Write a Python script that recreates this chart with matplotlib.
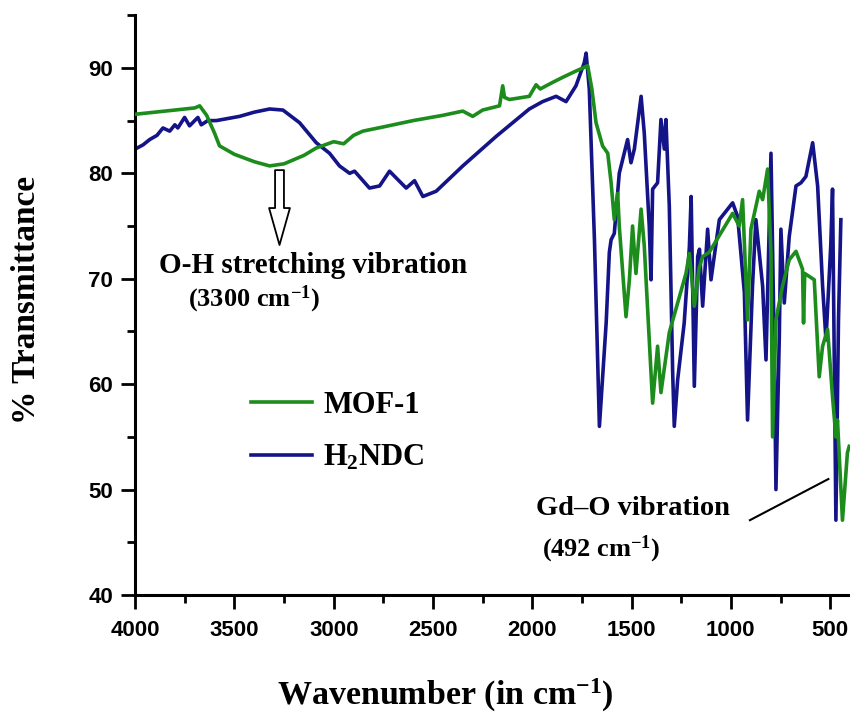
import matplotlib
matplotlib.use("Agg")
import matplotlib.pyplot as plt
from matplotlib.ticker import MultipleLocator

# ---------------- data ----------------
mof_wn = [4000, 3900, 3800, 3700, 3675, 3640, 3600, 3575, 3500, 3400, 3323, 3250,
          3150, 3088, 3000, 2950, 2900, 2853, 2750, 2600, 2450, 2350, 2300, 2250,
          2165, 2149, 2140, 2115, 2015, 1981, 1960, 1900, 1847, 1780, 1721, 1700,
          1679, 1646, 1620, 1603, 1587, 1570, 1562, 1528, 1511, 1495, 1478, 1452,
          1436, 1411, 1394, 1369, 1352, 1310, 1226, 1209, 1184, 1160, 1142, 1109,
          991, 958, 941, 916, 899, 857, 840, 815, 798, 790, 773, 740, 706, 672,
          639, 634, 628, 580, 555, 538, 513, 488, 471, 463, 438, 413, 404]
mof_t = [85.6, 85.8, 86.0, 86.2, 86.4, 85.5, 83.8, 82.6, 81.8, 81.1, 80.7, 80.9,
         81.7, 82.4, 83.0, 82.8, 83.6, 84.0, 84.4, 85.0, 85.5, 85.9, 85.4, 86.0,
         86.4, 88.3, 87.2, 87.0, 87.3, 88.4, 88.0, 88.6, 89.1, 89.7, 90.2, 88.0,
         84.8, 82.6, 81.9, 79.1, 75.6, 78.1, 75.0, 66.4, 69.9, 75.0, 70.5, 76.6,
         73.1, 64.2, 58.2, 63.6, 59.2, 64.9, 70.5, 72.4, 67.4, 71.0, 72.1, 72.5,
         76.2, 75.0, 77.5, 66.1, 74.7, 78.3, 77.5, 80.4, 72.4, 55.0, 66.1, 69.3,
         71.8, 72.6, 70.9, 65.8, 70.5, 69.9, 60.7, 63.6, 65.2, 58.8, 55.0, 56.6,
         47.1, 53.5, 54.1]

ndc_wn = [4000, 3960, 3927, 3890, 3860, 3826, 3800, 3785, 3751, 3726, 3700, 3684,
          3667, 3634, 3591, 3474, 3400, 3323, 3256, 3172, 3088, 3021, 2971, 2920,
          2895, 2820, 2769, 2719, 2635, 2593, 2551, 2484, 2350, 2182, 2015, 1948,
          1880, 1830, 1780, 1738, 1729, 1713, 1687, 1662, 1628, 1612, 1603, 1587,
          1562, 1520, 1503, 1486, 1452, 1436, 1411, 1402, 1394, 1369, 1352, 1335,
          1327, 1310, 1293, 1285, 1268, 1235, 1209, 1200, 1184, 1167, 1158, 1142,
          1117, 1100, 1058, 991, 966, 932, 916, 891, 874, 840, 823, 798, 781, 773,
          756, 748, 731, 706, 672, 647, 622, 588, 563, 538, 521, 497, 488, 471,
          458, 446]
ndc_t = [82.3, 82.7, 83.2, 83.6, 84.3, 84.0, 84.6, 84.3, 85.3, 84.5, 85.0, 85.3,
         84.6, 85.0, 85.0, 85.4, 85.8, 86.1, 86.0, 84.8, 82.9, 81.9, 80.7, 80.0,
         80.2, 78.6, 78.8, 80.2, 78.6, 79.3, 77.8, 78.3, 80.7, 83.5, 86.1, 86.8,
         87.3, 86.8, 88.3, 90.5, 91.4, 88.0, 73.7, 56.0, 65.8, 72.5, 73.7, 74.3,
         80.0, 83.2, 81.0, 82.3, 87.3, 83.8, 75.0, 69.9, 78.5, 79.1, 85.1, 82.3,
         85.1, 76.9, 61.1, 56.0, 60.4, 65.8, 73.0, 77.8, 59.8, 72.1, 72.8, 67.4,
         74.7, 69.9, 75.6, 77.2, 75.9, 68.7, 56.6, 69.3, 75.6, 69.3, 62.3, 81.9,
         62.9, 50.0, 64.5, 74.7, 67.7, 74.0, 78.8, 79.1, 79.7, 82.9, 78.8, 69.3,
         64.2, 73.1, 78.5, 47.1, 66.1, 75.6]

series_labels = ["MOF-1", "H$_2$NDC"]
x_ticks = [4000, 3500, 3000, 2500, 2000, 1500, 1000, 500]
y_ticks = [40, 50, 60, 70, 80, 90]

GREEN = "#1c8c1c"
BLUE = "#141488"
SERIF = "Liberation Serif"

plt.rcParams["mathtext.fontset"] = "custom"
plt.rcParams["mathtext.rm"] = "Liberation Serif:bold"
plt.rcParams["mathtext.it"] = "Liberation Serif:bold"
plt.rcParams["mathtext.bf"] = "Liberation Serif:bold"
plt.rcParams["mathtext.default"] = "rm"

fig = plt.figure(figsize=(8.5, 7.15), dpi=100)
ax = fig.add_axes([0.159, 0.1678, 0.841, 0.811])

ax.plot(mof_wn, mof_t, color=GREEN, lw=2.6, label=series_labels[0], zorder=3)
ax.plot(ndc_wn, ndc_t, color=BLUE, lw=2.6, label=series_labels[1], zorder=2)

ax.set_xlim(4000, 400)
ax.set_ylim(40, 95)
ax.set_xticks(x_ticks)
ax.set_yticks(y_ticks)
ax.xaxis.set_minor_locator(MultipleLocator(250))
ax.yaxis.set_minor_locator(MultipleLocator(5))

for s in ["top", "right"]:
    ax.spines[s].set_visible(False)
for s in ["left", "bottom"]:
    ax.spines[s].set_linewidth(2.2)

ax.tick_params(which="major", direction="out", length=10, width=2.0)
ax.tick_params(which="minor", direction="out", length=6, width=2.0)
ax.tick_params(axis="x", which="major", pad=8)
ax.tick_params(axis="y", which="major", pad=6)
for lab in ax.get_xticklabels() + ax.get_yticklabels():
    lab.set_fontfamily("Liberation Sans")
    lab.set_fontweight("bold")
    lab.set_fontsize(16)

fig.text(445 / 850, 1 - 705 / 715, "Wavenumber (in cm$^{-1}$)", fontfamily=SERIF,
         fontweight="bold", fontsize=24.5, ha="center", va="baseline")
fig.text(27 / 850, 1 - 300 / 715, "% Transmittance", fontfamily=SERIF,
         fontweight="bold", fontsize=24, ha="center", va="center", rotation=90)

# legend
leg = ax.legend(loc="upper left", bbox_to_anchor=(0.124, 0.40), frameon=False,
                handlelength=2.0, handletextpad=0.36, labelspacing=0.78,
                prop={"family": SERIF, "weight": "bold", "size": 22})

# annotations
ax.annotate("", xy=(3273, 73.2), xytext=(3273, 80.3),
            arrowprops=dict(arrowstyle="simple,head_length=1.33,head_width=0.75,tail_width=0.32",
                            mutation_scale=20, shrinkA=0, shrinkB=0,
                            fc="white", ec="black", lw=1.3))
ax.text(3880, 71.3, "O-H stretching vibration", fontfamily=SERIF,
        fontweight="bold", fontsize=21, ha="left", va="center")
ax.text(3736, 68.0, "(3300 cm$^{-1}$)", fontfamily=SERIF,
        fontweight="bold", fontsize=19, ha="left", va="center")
ax.text(1979, 48.2, "Gd\u2013O vibration", fontfamily=SERIF,
        fontweight="bold", fontsize=20.5, ha="left", va="center")
ax.text(1949, 44.3, "(492 cm$^{-1}$)", fontfamily=SERIF,
        fontweight="bold", fontsize=19, ha="left", va="center")
ax.plot([904, 509], [47.1, 51.0], color="black", lw=1.5, zorder=4)

fig.savefig("out.png", dpi=100)
